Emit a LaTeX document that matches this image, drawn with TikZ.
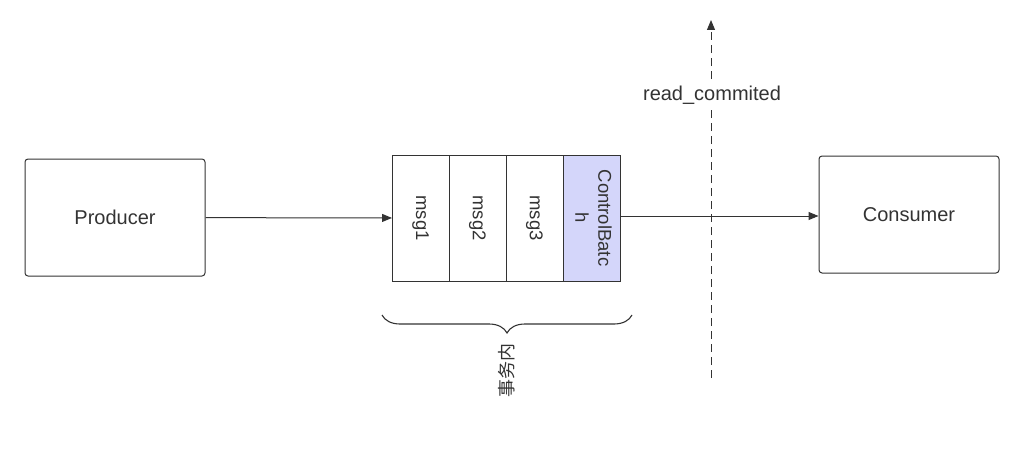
\documentclass[tikz,border=0pt]{standalone}
\usepackage{fontspec}
\setmainfont{Liberation Sans}
\newfontfamily\cjk{Noto Sans CJK SC}
\usepackage{xcolor}
\usepackage{tikz}
\usetikzlibrary{positioning,arrows.meta,decorations.pathreplacing}

\definecolor{linegray}{HTML}{333333}
\definecolor{batchfill}{HTML}{D4D6FA}

\begin{document}
\begin{tikzpicture}[
    x=1pt, y=1pt,
    every node/.style={text=linegray},
    box/.style={
        draw=linegray,
        rectangle,
        rounded corners=3pt,
        line width=1pt,
        minimum width=180pt,
        minimum height=117pt,
        align=center,
        font=\fontsize{20}{24}\selectfont
    },
    cell/.style={
        draw=linegray,
        rectangle,
        line width=1pt,
        minimum width=57pt,
        minimum height=126pt,
        inner sep=0pt,
        outer sep=0pt,
        font=\fontsize{18.5}{23}\selectfont
    },
    arrow/.style={-{Triangle[length=10pt,width=8pt]}, line width=1pt, draw=linegray}
]

\useasboundingbox (0,0) rectangle (1024,459);

\node[box] (producer) at (115,241.5) {Producer};
\node[box] (consumer) at (909,244.5) {Consumer};

\node[cell] (msg1) at (420.5,241) {\rotatebox{-90}{msg1}};
\node[cell, right=0pt of msg1] (msg2) {\rotatebox{-90}{msg2}};
\node[cell, right=0pt of msg2] (msg3) {\rotatebox{-90}{msg3}};
\node[cell, fill=batchfill, right=0pt of msg3] (batch)
    {\rotatebox{-90}{\begin{tabular}{@{}c@{}}ControlBatc\\h\end{tabular}}};
% redraw the shared borders over the fill
\draw[draw=linegray, line width=1pt] (msg3.north east) -- (msg3.south east);

\draw[arrow] (producer) -- (msg1);
\draw[arrow] (batch.east) ++(0,2) coordinate (out) -- (out -| consumer.west);

% read_commited marker
\coordinate (cutlow) at (711,81);
\coordinate (cuthigh) at (711,439);
\draw[arrow, dashed, dash pattern=on 8pt off 5pt] (cutlow) -- (cuthigh);
\node[fill=white, font=\fontsize{20}{24}\selectfont, inner sep=2pt] (rc) at (712,364) {read\_commited};

% transaction brace
\coordinate (bl) at (382,144);
\coordinate (br) at (632,144);
\draw[draw=linegray, line width=1.1pt, decorate,
      decoration={brace, mirror, amplitude=18pt}] (bl) -- (br);
\node[rotate=90, font=\cjk\fontsize{18}{22}\selectfont] (txn) at (507,89) {事务内};

\end{tikzpicture}
\end{document}
